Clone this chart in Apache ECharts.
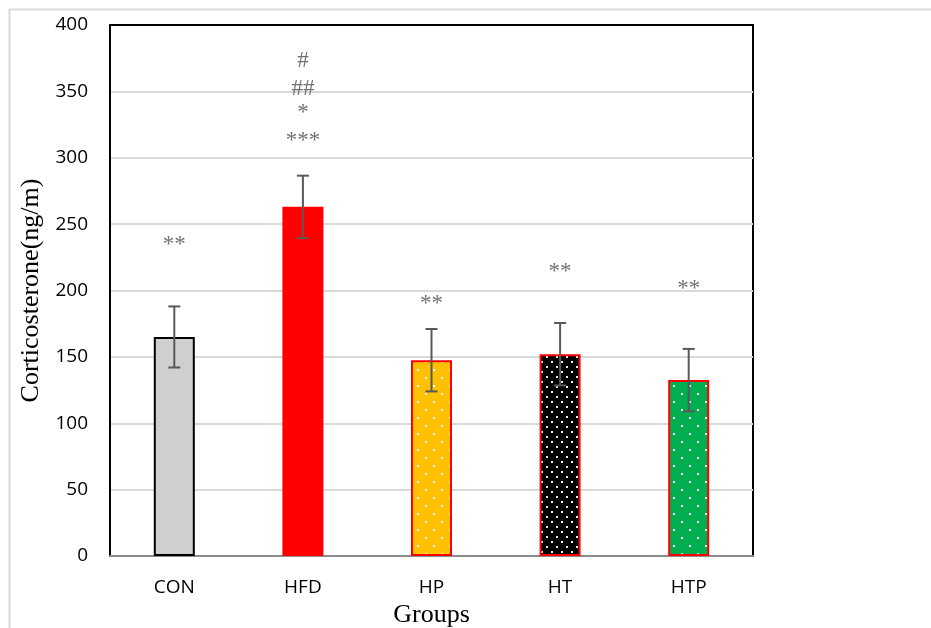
<!DOCTYPE html>
<html>
<head>
<meta charset="utf-8">
<script src="https://cdn.jsdelivr.net/npm/echarts@6/dist/echarts.min.js"></script>
<style>
  html, body { margin: 0; padding: 0; background: #fff; }
  #chart { width: 931px; height: 628px; }
</style>
</head>
<body>
<div id="chart"></div>
<script>
// data
var groups = ['CON', 'HFD', 'HP', 'HT', 'HTP'];
var means = [165, 263, 147.5, 152, 132.5];
var errors = [23, 23.5, 23.5, 23.5, 23.5];
var yTicks = [0, 50, 100, 150, 200, 250, 300, 350, 400];
// significance marks: [group, y position, text]
var marks = [
  ['CON', 234, '**'],
  ['HFD', 373, '#'],
  ['HFD', 352, '##'],
  ['HFD', 334, '*'],
  ['HFD', 313, '***'],
  ['HP', 190, '**'],
  ['HT', 214, '**'],
  ['HTP', 201, '**']
];

function dots(bg, step, size, dotColor) {
  var c = document.createElement('canvas');
  c.width = step * 2;
  c.height = step * 2;
  var g = c.getContext('2d');
  g.fillStyle = bg;
  g.fillRect(0, 0, c.width, c.height);
  g.fillStyle = dotColor || '#fff';
  g.fillRect(1, 1, size, size);
  g.fillRect(step + 1, step + 1, size, size);
  return { image: c, repeat: 'repeat' };
}

var barStyles = [
  { color: '#d0cece', borderColor: '#000', borderWidth: 2 },
  { color: '#ff0000', borderWidth: 0 },
  { color: dots('#ffc000', 8, 2), borderColor: '#ff0000', borderWidth: 2 },
  { color: dots('#000000', 5, 2, '#eee'), borderColor: '#ff0000', borderWidth: 2 },
  { color: dots('#00b050', 8, 2), borderColor: '#ff0000', borderWidth: 2 }
];

var chart = echarts.init(document.getElementById('chart'));
var option = {
  animation: false,
  backgroundColor: '#fff',
  graphic: [{
    type: 'rect',
    shape: { x: 9.5, y: 9.5, width: 940, height: 640 },
    style: { fill: 'none', stroke: '#d9d9d9', lineWidth: 2 },
    silent: true
  }],
  grid: {
    left: 110, right: 178, top: 25, bottom: 72,
    outerBoundsMode: 'none',
    containLabel: false,
    show: true,
    borderColor: '#000',
    borderWidth: 2
  },
  xAxis: {
    type: 'category',
    data: groups,
    name: 'Groups',
    nameLocation: 'middle',
    nameGap: 38,
    nameTextStyle: { fontFamily: 'Liberation Serif', fontSize: 26, color: '#000' },
    axisLine: { lineStyle: { color: '#8c8c8c', width: 2 } },
    axisTick: { show: false },
    axisLabel: { fontFamily: 'Open Sans', fontSize: 19, color: '#000', margin: 22 }
  },
  yAxis: {
    type: 'value',
    min: yTicks[0],
    max: yTicks[yTicks.length - 1],
    interval: 50,
    name: 'Corticosterone(ng/m)',
    nameLocation: 'middle',
    nameGap: 66,
    nameTextStyle: { fontFamily: 'Liberation Serif', fontSize: 26, color: '#000' },
    axisLine: { show: true, lineStyle: { color: '#000', width: 2 } },
    axisTick: { show: false },
    axisLabel: { fontFamily: 'Open Sans', fontSize: 19, color: '#000', margin: 22 },
    splitLine: { showMinLine: false, showMaxLine: false, lineStyle: { color: '#d9d9d9', width: 2 } }
  },
  series: [
    {
      type: 'bar',
      barWidth: 41,
      data: means.map(function (v, i) {
        return { value: v, itemStyle: barStyles[i] };
      }),
      z: 2
    },
    {
      type: 'custom',
      z: 3,
      data: means.map(function (v, i) { return [i, v - errors[i], v + errors[i]]; }),
      renderItem: function (params, api) {
        var lo = api.coord([api.value(0), api.value(1)]);
        var hi = api.coord([api.value(0), api.value(2)]);
        var cap = 6;
        var st = { stroke: '#595959', lineWidth: 2 };
        return {
          type: 'group',
          children: [
            { type: 'line', shape: { x1: lo[0], y1: lo[1], x2: hi[0], y2: hi[1] }, style: st },
            { type: 'line', shape: { x1: lo[0] - cap, y1: lo[1], x2: lo[0] + cap, y2: lo[1] }, style: st },
            { type: 'line', shape: { x1: hi[0] - cap, y1: hi[1], x2: hi[0] + cap, y2: hi[1] }, style: st }
          ]
        };
      }
    },
    {
      type: 'scatter',
      symbolSize: 1,
      itemStyle: { color: 'rgba(0,0,0,0)' },
      data: marks,
      z: 4,
      label: {
        show: true,
        position: 'inside',
        formatter: function (p) { return p.value[2]; },
        fontFamily: 'Liberation Serif',
        fontSize: 23,
        color: '#4d4d4d'
      }
    }
  ]
};
chart.setOption(option);
</script>
</body>
</html>
